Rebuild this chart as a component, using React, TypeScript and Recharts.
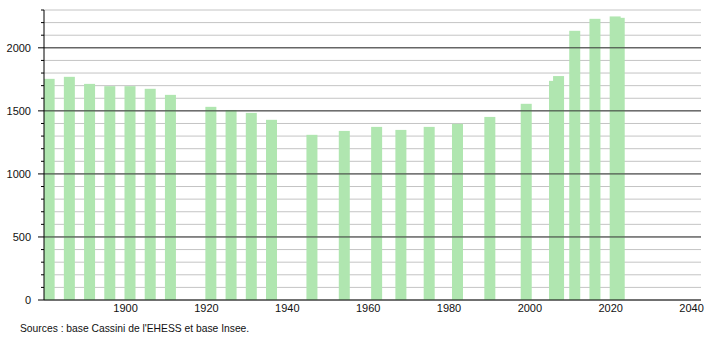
import { BarChart, Bar, XAxis, YAxis, CartesianGrid, ReferenceLine } from "recharts";

const years = [
  1881, 1886, 1891, 1896, 1901, 1906, 1911, 1921, 1926, 1931, 1936, 1946, 1954,
  1962, 1968, 1975, 1982, 1990, 1999, 2006, 2007, 2011, 2016, 2021, 2022,
];
const population = [
  1754, 1770, 1714, 1696, 1696, 1675, 1627, 1532, 1507, 1484, 1429, 1310, 1341,
  1373, 1349, 1373, 1397, 1452, 1556, 1738, 1776, 2135, 2230, 2249, 2238,
];
const xTicks = [1900, 1920, 1940, 1960, 1980, 2000, 2020, 2040];
const yTicks = Array.from({ length: 24 }, (_, i) => i * 100);
const majorY = [500, 1000, 1500, 2000];

const rows = years.map((y, i) => ({ year: y, pop: population[i] }));

const font = "'Liberation Sans', Arial, sans-serif";

function YTick(props: any) {
  const { x, y, payload } = props;
  const v = payload.value as number;
  const major = v % 500 === 0;
  return (
    <g>
      <line x1={major ? x - 6 : x - 3} x2={x} y1={y} y2={y} stroke="#000" strokeWidth={1} />
      {major && (
        <text x={x - 13} y={y + 4} textAnchor="end" fontSize={11} fontFamily={font} fill="#111">
          {v}
        </text>
      )}
    </g>
  );
}

function XTick(props: any) {
  const { x, y, payload } = props;
  return (
    <text x={x - 0.5} y={y + 12} textAnchor="middle" fontSize={11} fontFamily={font} fill="#111">
      {payload.value}
    </text>
  );
}

function BarShape(props: any) {
  const { x, y, width, height } = props;
  const cx = x + width / 2;
  return <rect x={cx - 5.5} y={y} width={11} height={height} fill="#b0e6b0" />;
}

export default function App() {
  return (
    <div style={{ position: "absolute", left: 0, top: 0, width: 710, height: 340, background: "#fff" }}>
      <BarChart
        width={710}
        height={340}
        data={rows}
        margin={{ top: 10, right: 9, left: 0, bottom: 20 }}
      >
        <CartesianGrid vertical={false} stroke="#c4c4c4" strokeWidth={1} />
        <XAxis
          dataKey="year"
          type="number"
          domain={[1879.7, 2042.2]}
          ticks={xTicks}
          interval={0}
          allowDataOverflow
          height={20}
          tickSize={0}
          tickMargin={0}
          tickLine={false}
          axisLine={{ stroke: "#000" }}
          tick={<XTick />}
        />
        <YAxis
          type="number"
          domain={[0, 2300]}
          ticks={yTicks}
          interval={0}
          width={44}
          tickSize={0}
          tickMargin={0}
          tickLine={false}
          axisLine={{ stroke: "#000" }}
          tick={<YTick />}
        />
        {majorY.map((v) => (
          <ReferenceLine key={v} y={v} stroke="#333" strokeWidth={1} />
        ))}
        <Bar dataKey="pop" shape={<BarShape />} isAnimationActive={false} />
      </BarChart>
      <div
        style={{
          position: "absolute",
          left: 20,
          top: 323,
          fontSize: 10.3,
          fontFamily: font,
          color: "#111",
          whiteSpace: "nowrap",
        }}
      >
        Sources : base Cassini de l'EHESS et base Insee.
      </div>
    </div>
  );
}
